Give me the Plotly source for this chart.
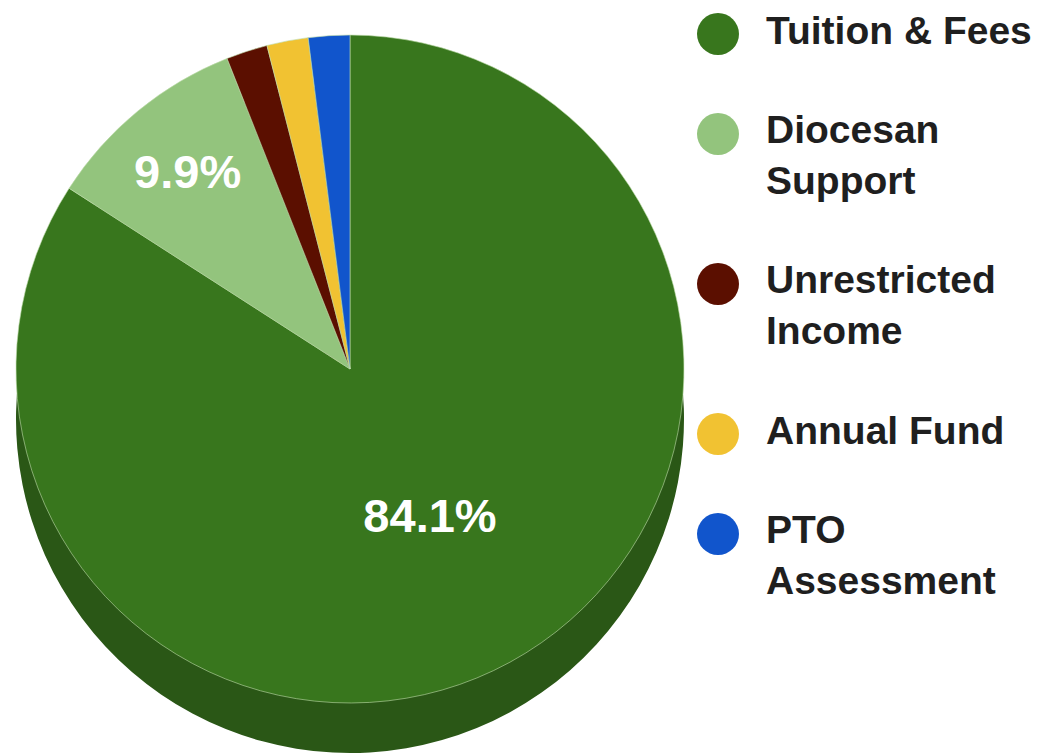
import plotly.graph_objects as go

categories = ["Tuition & Fees", "Diocesan Support", "Unrestricted Income", "Annual Fund", "PTO Assessment"]
legend_labels = ["Tuition & Fees", "Diocesan<br>Support", "Unrestricted<br>Income", "Annual Fund", "PTO<br>Assessment"]
values = [84.1, 9.9, 2.0, 2.0, 2.0]
show_label = [True, True, False, False, False]

top_colors = ["#38761d", "#93c47d", "#5b0f00", "#f1c232", "#1155cc"]
side_colors = ["#2a5716", "#6e935d", "#440b00", "#b59125", "#0d3f99"]

W, H = 1042, 754
cx, cy, r, depth = 342, 361, 334, 50

def dom(cx, cy, r):
    return dict(x=[(cx - r) / W, (cx + r) / W], y=[(H - cy - r) / H, (H - cy + r) / H])

texttemplate = ["%{percent:.1%}" if s else "" for s in show_label]

fig = go.Figure()
# side (depth) of the 3D pie
fig.add_trace(go.Pie(
    labels=categories, values=values, sort=False, direction="clockwise", rotation=0,
    marker=dict(colors=side_colors, line=dict(width=0)),
    textinfo="none", hoverinfo="skip", showlegend=False,
    domain=dom(cx, cy + depth, r),
))
# top face
fig.add_trace(go.Pie(
    labels=categories, values=values, sort=False, direction="clockwise", rotation=0,
    marker=dict(colors=top_colors, line=dict(width=1, color="rgba(190,220,170,0.6)")),
    texttemplate=texttemplate, textposition="inside", insidetextorientation="horizontal",
    insidetextfont=dict(family="Liberation Sans, Arial", size=47, color="white", weight="bold"),
    showlegend=False,
    domain=dom(cx, cy, r),
))

# custom legend with large circle markers
line_counts = [lbl.count("<br>") + 1 for lbl in legend_labels]
marker_y, text_y = [], []
top = 0
for n in line_counts:
    marker_y.append(top + 0.5)
    text_y.append(top + n / 2)
    top += n + 1

fig.add_trace(go.Scatter(
    x=[20] * len(categories), y=marker_y, mode="markers", cliponaxis=False,
    marker=dict(size=42, color=top_colors, line=dict(width=0)),
    hoverinfo="skip", showlegend=False, xaxis="x", yaxis="y",
))
fig.add_trace(go.Scatter(
    x=[68] * len(categories), y=text_y, mode="text", text=legend_labels, cliponaxis=False,
    textposition="middle right",
    textfont=dict(family="Liberation Sans, Arial", size=39, color="#1f1f1f", weight="bold"),
    hoverinfo="skip", showlegend=False, xaxis="x", yaxis="y",
))

fig.update_layout(
    width=W, height=H,
    margin=dict(l=0, r=0, t=0, b=0),
    paper_bgcolor="white", plot_bgcolor="rgba(0,0,0,0)",
    xaxis=dict(domain=[690 / W, 1], range=[0, 352], visible=False, fixedrange=True),
    yaxis=dict(domain=[0, 1], range=[(H - 1) / 50, -0.02], visible=False, fixedrange=True),
    showlegend=False,
)

fig.write_html("out.html")
